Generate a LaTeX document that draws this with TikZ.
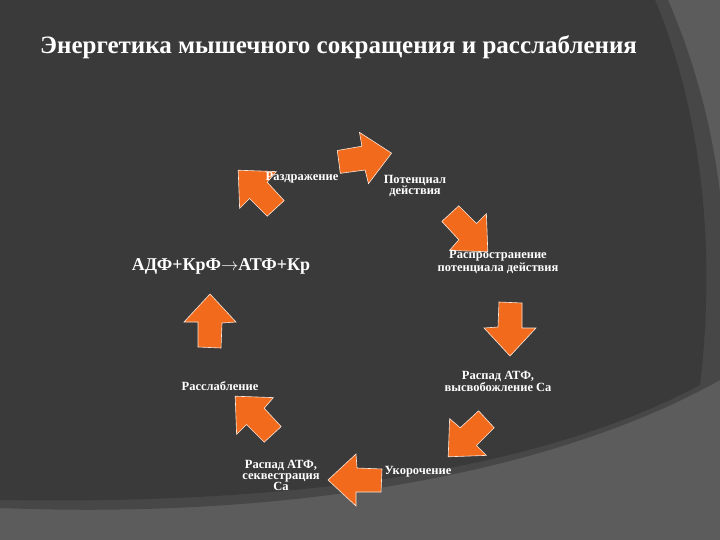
\documentclass[tikz,border=0pt]{standalone}
\usepackage{fontspec}
\setmainfont{Liberation Serif}
\begin{document}
\begin{tikzpicture}[x=1pt,y=-1pt,
  lbl/.style={text=white,font=\bfseries\fontsize{12.5}{11}\selectfont,align=center,inner sep=0pt},
  blk/.pic={\fill[orgc,draw=white!85!orgc,line width=0.6pt] (-26,0)--(0,-28)--(26,0)--(12,1)--(11,26)--(-12,25)--(-12,0)--cycle;}]
\definecolor{orgc}{HTML}{F26A1B}
\definecolor{darkbg}{HTML}{3A3A3A}
\definecolor{midbg}{HTML}{474747}
\definecolor{litbg}{HTML}{5C5C5C}
\useasboundingbox (0,0) rectangle (720,540);
\fill[litbg] (0,0) rectangle (720,540);
\fill[midbg] (0,0) -- (668,0) .. controls (720,120) and (735,250) .. (720,378) -- (720,380) .. controls (560,470) and (300,520) .. (0,508) -- cycle;
\fill[darkbg] (0,0) -- (655,0) .. controls (705,120) and (715,260) .. (700,385) .. controls (540,470) and (300,505) .. (0,500) -- cycle;
\node[anchor=west,text=white,font=\bfseries\fontsize{25}{25}\selectfont,inner sep=0pt] (title) at (40,47) {Энергетика мышечного сокращения и расслабления};
\pic[rotate=45] at (258,190) {blk};
\pic[rotate=-80] at (364,158) {blk};
\pic[rotate=-135] at (468,232) {blk};
\pic[rotate=180] at (510,328) {blk};
\pic[rotate=135] at (468,437) {blk};
\pic[rotate=90] at (356,480) {blk};
\pic[rotate=45] at (255,416) {blk};
\pic[rotate=0] at (210,322) {blk};
\node[lbl] (r1) at (302,178) {Раздражение};
\node[lbl] (r2) at (415,186) {Потенциал\\действия};
\node[lbl] (r3) at (498,262) {Распространение\\потенциала действия};
\node[lbl] (r4) at (498,381) {Распад АТФ,\\высвобожление Са};
\node[lbl] (r5) at (418,472) {Укорочение};
\node[lbl] (r6) at (281,475) {Распад АТФ,\\секвестрация\\Са};
\node[lbl] (r7) at (220,386) {Расслабление};
\node[lbl,font=\bfseries\fontsize{18}{18}\selectfont] (r8) at (221,266) {АДФ+КрФ$\rightarrow$АТФ+Кр};
\end{tikzpicture}
\end{document}
